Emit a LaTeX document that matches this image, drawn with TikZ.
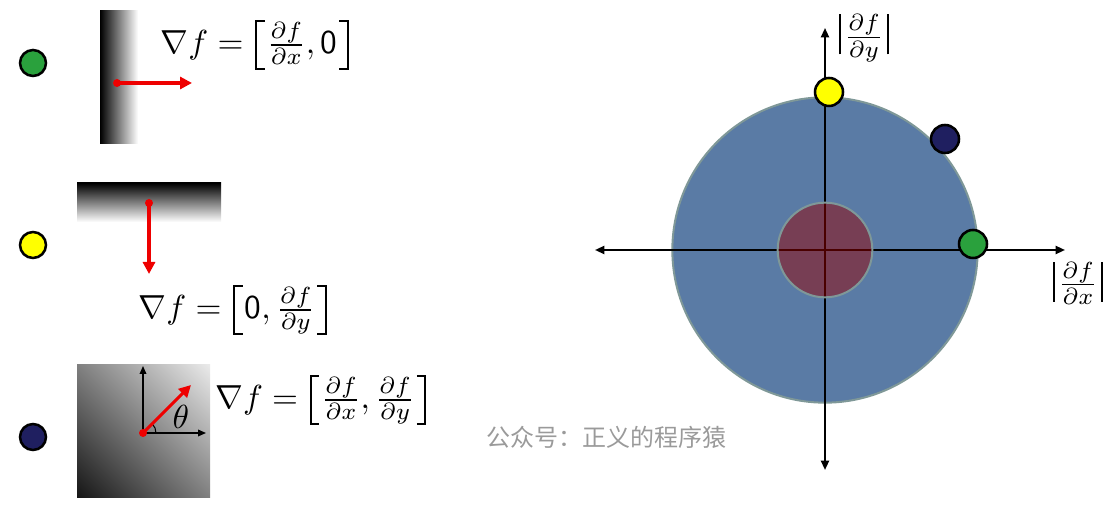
\documentclass[tikz,border=0pt]{standalone}
\usepackage{fontspec}
\newfontfamily\cjk{Noto Sans CJK SC}
\usetikzlibrary{arrows.meta}
\definecolor{dotgreen}{HTML}{2AA13D}
\definecolor{dotyellow}{HTML}{FFFF00}
\definecolor{dotnavy}{HTML}{1F1F60}
\definecolor{outerblue}{HTML}{5A7BA5}
\definecolor{ringgray}{HTML}{7F9898}
\definecolor{innerred}{RGB}{151,0,0}
\definecolor{arrowred}{HTML}{EE0000}
\definecolor{wmgray}{HTML}{9A9A9A}
\newcommand\myvbar{\vrule height 9.4pt depth 2.6pt width 0.6pt}
\newcommand\mylbr{\mathopen{\kern0.8pt\lower5pt\hbox{\vrule height 15pt width 0.5pt\vbox to 15pt{\hrule width 2.3pt height 0.5pt\vfill\hrule width 2.3pt height 0.5pt}}\kern0.6pt}}
\newcommand\myrbr{\mathclose{\kern0.6pt\lower5pt\hbox{\vbox to 15pt{\hrule width 2.3pt height 0.5pt\vfill\hrule width 2.3pt height 0.5pt}\vrule height 15pt width 0.5pt}\kern0.8pt}}
\tikzset{
  dot/.style={circle, draw=black, line width=1.9pt, minimum size=19.5pt, inner sep=0pt},
  bigdot/.style={dot, minimum size=21pt},
  reddot/.style={circle, fill=arrowred, minimum size=6pt, inner sep=0pt},
  redarrow/.style={draw=arrowred, line width=2.3pt, -{Triangle[length=9pt,width=9pt]}},
  smallaxis/.style={draw=black, line width=1pt, -{Triangle[length=6pt,width=5pt]}},
  bigaxis/.style={draw=black, line width=1.5pt, {Triangle[length=7pt,width=6pt]}-{Triangle[length=7pt,width=6pt]}},
  formula/.style={scale=2.5, inner sep=0pt},
}
\begin{document}
\begin{tikzpicture}[x=0.75pt,y=0.75pt]
\useasboundingbox (0,0) rectangle (1120,524);

% ---------- left column: dots ----------
\node[dot, fill=dotgreen] (lg) at (33,461) {};
\node[dot, fill=dotyellow] (ly) at (33,279) {};
\node[dot, fill=dotnavy] (ln) at (33,87) {};

% ---------- case 1: vertical edge ----------
\shade[left color=black, right color=white] (100,380) rectangle (138,513);
\node[reddot] (r1) at (117,441) {};
\coordinate (r1e) at (192,441);
\draw[redarrow] (r1.center) -- (r1e);
\node[formula] (f1) at (256,479) {$\nabla f = \mylbr\frac{\partial f}{\partial x}, \mathsf{0}\myrbr$};

% ---------- case 2: horizontal edge ----------
\shade[top color=black, bottom color=white] (77,302) rectangle (221,341);
\node[reddot] (r2) at (149,321) {};
\coordinate (r2e) at (149,250);
\draw[redarrow] (r2.center) -- (r2e);
\node[formula] (f2) at (234,214) {$\nabla f = \mylbr\mathsf{0}, \frac{\partial f}{\partial y}\myrbr$};

% ---------- case 3: diagonal ----------
\begin{scope}
  \clip (77,26) rectangle (210,159);
  \shade[left color=black, middle color=black!22, right color=white, shading angle=135] (30.5,-20.5) rectangle (256.5,205.5);
\end{scope}
\coordinate (o3) at (143,91);
\coordinate (o3up) at (143,158);
\coordinate (o3rt) at (206,91);
\coordinate (o3d) at (191,139);
\draw[smallaxis] (o3) -- (o3up);
\draw[smallaxis] (o3) -- (o3rt);
\draw[black, line width=0.8pt] (o3) ++(13,0) arc[start angle=0, end angle=45, radius=13];
\node[reddot] (r3) at (o3) {};
\draw[redarrow] (r3.center) -- (o3d);
\node[formula] (th) at (181,107) {$\theta$};
\node[formula] (f3) at (322,124) {$\nabla f = \mylbr\frac{\partial f}{\partial x}, \frac{\partial f}{\partial y}\myrbr$};

% ---------- watermark ----------
\node[text=wmgray, font=\cjk\fontsize{18}{21}\selectfont, inner sep=0pt] (wm) at (606,87) {公众号：正义的程序猿};

% ---------- right: gradient space ----------
\node[circle, fill=outerblue, draw=ringgray, line width=1.5pt, minimum size=229pt, inner sep=0pt] (outer) at (825,274) {};
\coordinate (axl) at (595,274);
\coordinate (axr) at (1065,274);
\coordinate (axb) at (825,54);
\coordinate (axt) at (825,496);
\draw[bigaxis] (axl) -- (axr);
\draw[bigaxis] (axb) -- (axt);
\node[circle, fill=innerred, fill opacity=0.49, draw=ringgray, draw opacity=1, line width=1.5pt, minimum size=71pt, inner sep=0pt] (inner) at (825,274) {};
\node[formula] (ly2) at (864,486) {$\myvbar\mkern2mu\frac{\partial f}{\partial y}\mkern2mu\myvbar$};
\node[formula] (lx2) at (1078,241) {$\myvbar\mkern2mu\frac{\partial f}{\partial x}\mkern2mu\myvbar$};

\node[bigdot, fill=dotyellow] (ry) at (829,432) {};
\node[bigdot, fill=dotnavy] (rn) at (945,385) {};
\node[bigdot, fill=dotgreen] (rg) at (973,280) {};
\end{tikzpicture}
\end{document}
